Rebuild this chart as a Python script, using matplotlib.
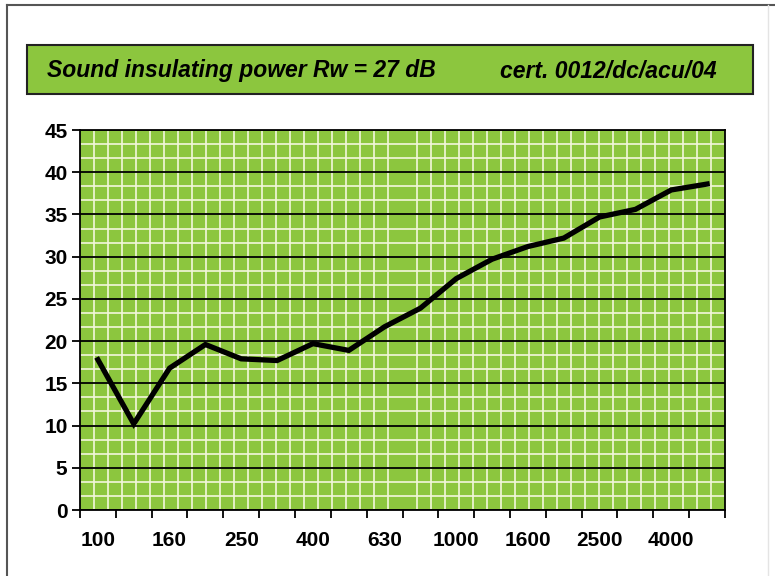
import matplotlib.pyplot as plt
import numpy as np
from matplotlib.lines import Line2D
from matplotlib.patches import Rectangle

freqs = [100, 125, 160, 200, 250, 315, 400, 500, 630, 800,
         1000, 1250, 1600, 2000, 2500, 3150, 4000, 5000]
r_db = [17.8, 10.2, 16.8, 19.6, 17.9, 17.7, 19.7, 18.9, 21.7, 23.9,
        27.4, 29.7, 31.2, 32.2, 34.7, 35.6, 37.9, 38.6]
y_ticks = [0, 5, 10, 15, 20, 25, 30, 35, 40, 45]
title_left = "Sound insulating power Rw = 27 dB"
title_right = "cert. 0012/dc/acu/04"

green = "#8cc63e"
font = ["Liberation Sans", "DejaVu Sans"]

fig = plt.figure(figsize=(7.75, 5.76), dpi=100)

# outer frame of the picture
fig.add_artist(Line2D([7 / 775, 7 / 775], [0, 1 - 5 / 576], color="#555555", lw=1.5))
fig.add_artist(Line2D([7 / 775, 1], [1 - 5 / 576, 1 - 5 / 576], color="#555555", lw=1.5))
fig.add_artist(Line2D([768 / 775, 768 / 775], [0, 1 - 5 / 576], color="#e4e4e4", lw=1))

# title box
fig.add_artist(Rectangle((27 / 775, 1 - 94 / 576), 726 / 775, 49 / 576,
                         transform=fig.transFigure, facecolor=green,
                         edgecolor="#222222", lw=1.5))
fig.text(47 / 775, 1 - 71 / 576, title_left, fontsize=16.5, fontweight="bold",
         style="italic", va="center", family=font)
fig.text(500 / 775, 1 - 71 / 576, title_right, fontsize=16.5, fontweight="bold",
         style="italic", va="center", family=font)

ax = fig.add_axes([80 / 775, 1 - 510 / 576, 645 / 775, 380 / 576])
ax.set_facecolor(green)

x = np.arange(len(freqs))
ax.set_xlim(-0.5, len(freqs) - 0.5)
ax.set_ylim(0, 45)

# fine white texture grid
ax.set_xticks(np.linspace(-0.5, len(freqs) - 0.5, 47), minor=True)
ax.set_yticks(np.arange(0, 45.01, 5 / 3), minor=True)
ax.grid(which="minor", color="#f3f7dc", lw=1.2, snap=True)
ax.tick_params(which="minor", length=0)

ax.set_yticks(y_ticks)
ax.yaxis.grid(True, which="major", color="black", lw=1.3)
ax.set_axisbelow(True)

ax.set_xticks(np.arange(-0.5, len(freqs), 1))
ax.set_xticklabels([])
for i in range(0, len(freqs), 2):
    ax.text(x[i], -3.6, str(freqs[i]), ha="center", va="center",
            fontsize=15, fontweight="bold", family=font)

ax.plot(x, r_db, color="black", lw=3.8, solid_joinstyle="miter", zorder=5)

ax.tick_params(axis="both", which="major", direction="out", length=6,
               width=1.3, color="black")
ax.tick_params(axis="y", pad=3)
for lab in ax.get_yticklabels():
    lab.set_fontsize(15)
    lab.set_fontweight("bold")
    lab.set_family(font)
for side in ["left", "bottom", "right", "top"]:
    ax.spines[side].set_color("black")
    ax.spines[side].set_linewidth(1.3)

fig.savefig("out.png", dpi=100)
